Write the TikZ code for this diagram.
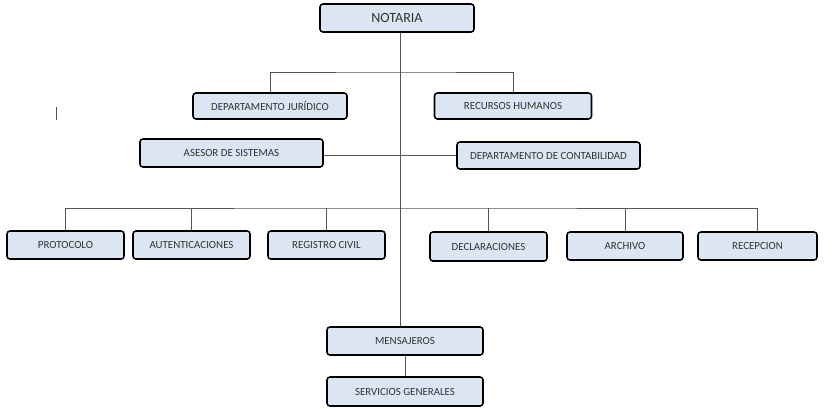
\documentclass[tikz,border=0pt]{standalone}
\usepackage{fontspec}
\setmainfont{Carlito}
\usepackage{xcolor}
\usetikzlibrary{positioning, calc}

\definecolor{boxfill}{HTML}{DCE6F2}
\definecolor{boxtext}{HTML}{333333}
\definecolor{linegray}{HTML}{555555}

\begin{document}
\begin{tikzpicture}[
    x=0.03cm, y=-0.03cm,
    unit/.style={rectangle, rounded corners=2.5pt, draw=black, line width=1.3pt, fill=boxfill,
        text=boxtext, font=\fontsize{9.3}{11}\selectfont, minimum height=0.84cm, inner sep=1pt},
    head/.style={unit, font=\fontsize{12}{14}\selectfont},
    link/.style={draw=linegray, line width=0.6pt}
]
    \useasboundingbox (0,0) rectangle (833,408);

    % direccion
    \node (notaria) [head, minimum width=4.62cm] at (397,18) {NOTARIA};
    \node (juridico) [unit, minimum width=4.62cm, minimum height=0.78cm] at (270,106) {DEPARTAMENTO JURÍDICO};
    \node (rrhh) [unit, minimum width=4.71cm, minimum height=0.78cm] at (513,106) {RECURSOS HUMANOS};
    \node (asesor) [unit, minimum width=5.49cm] at (231.5,153) {ASESOR DE SISTEMAS};
    \node (contab) [unit, minimum width=5.49cm, minimum height=0.81cm] at (548.5,155.5) {DEPARTAMENTO DE CONTABILIDAD};

    % areas operativas
    \node (protocolo) [unit, minimum width=3.51cm] at (65.5,245) {PROTOCOLO};
    \node (autent) [unit, minimum width=3.51cm] at (191.5,245) {AUTENTICACIONES};
    \node (registro) [unit, minimum width=3.51cm] at (326.5,245) {REGISTRO CIVIL};
    \node (declar) [unit, minimum width=3.51cm, minimum height=0.87cm] at (488.5,246.5) {DECLARACIONES};
    \node (archivo) [unit, minimum width=3.48cm] at (625,246) {ARCHIVO};
    \node (recepcion) [unit, minimum width=3.57cm] at (757.5,246) {RECEPCION};

    % apoyo
    \node (mensajeros) [unit, minimum width=4.68cm] at (405,341) {MENSAJEROS};
    \node (servicios) [unit, minimum width=4.68cm, minimum height=0.87cm] at (405,391.5) {SERVICIOS GENERALES};

    \coordinate (bar1) at (400,72);
    \coordinate (bar2) at (400,208);

    \draw [link] (notaria.south -| bar1) -- (bar1 |- mensajeros.north);
    \draw [link] (juridico.north) |- (bar1) -| (rrhh.north);
    \draw [link] (asesor.east |- contab.west) -- (contab.west);
    \draw [link] (protocolo.north) |- (bar2) -| (recepcion.north);
    \foreach \n in {autent, registro, declar, archivo}
        \draw [link] (bar2 -| \n.north) -- (\n.north);
    \draw [link] (mensajeros.south) -- (servicios.north);

    \draw [linegray, line width=0.6pt] (56,107) -- (56,120);
\end{tikzpicture}
\end{document}
